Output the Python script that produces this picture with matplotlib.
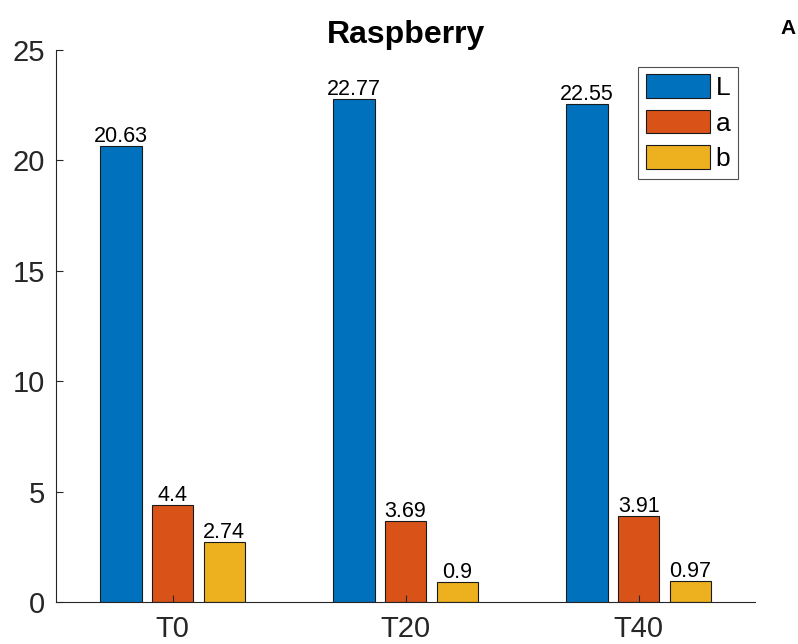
import numpy as np
import matplotlib.pyplot as plt

plt.rcParams['font.family'] = ['Liberation Sans', 'DejaVu Sans']

groups = ["T0", "T20", "T40"]
series = ["L", "a", "b"]
L_vals = [20.63, 22.77, 22.55]
a_vals = [4.4, 3.69, 3.91]
b_vals = [2.74, 0.9, 0.97]
labels_L = ["20.63", "22.77", "22.55"]
labels_a = ["4.4", "3.69", "3.91"]
labels_b = ["2.74", "0.9", "0.97"]
colors = ["#0072BD", "#D95319", "#EDB120"]

fig = plt.figure(figsize=(7.98, 6.44), dpi=100)
ax = fig.add_axes([0.0702, 0.0652, 0.876, 0.8572])

x = np.arange(1, len(groups) + 1)
width = 0.178
offsets = [-0.222, 0.0, 0.222]
data = [L_vals, a_vals, b_vals]
texts = [labels_L, labels_a, labels_b]

for vals, txt, off, col, name in zip(data, texts, offsets, colors, series):
    ax.bar(x + off, vals, width, color=col, edgecolor="#1a1a1a",
           linewidth=0.8, label=name)
    for bx, v, t in zip(x + off, vals, txt):
        ax.text(bx, v + 0.18, t, ha="center", va="baseline", fontsize=15.5,
                color="black")

ax.set_xlim(0.5, 3.5)
ax.set_ylim(0, 25)
ax.set_xticks(x)
ax.set_xticklabels(groups)
ax.set_yticks([0, 5, 10, 15, 20, 25])
ax.tick_params(direction="in", length=5, width=0.8, colors="#262626",
               labelsize=21)
ax.tick_params(axis="y", pad=8)
ax.tick_params(axis="x", pad=9)
for s in ["top", "right"]:
    ax.spines[s].set_visible(False)
for s in ["left", "bottom"]:
    ax.spines[s].set_color("#262626")
    ax.spines[s].set_linewidth(0.8)

ax.set_title("Raspberry", fontsize=23, fontweight="bold", pad=4)
fig.text(0.997, 0.956, "A", fontsize=15, fontweight="bold", ha="right",
         va="center")

leg = ax.legend(loc="upper right", bbox_to_anchor=(0.976, 0.97),
                fontsize=19, frameon=True, fancybox=False,
                handlelength=2.45, handleheight=1.0, handletextpad=0.2,
                borderpad=0.3, labelspacing=0.36, borderaxespad=0)
leg.get_frame().set_edgecolor("#262626")
leg.get_frame().set_linewidth(0.8)

fig.savefig("out.png", dpi=100)
